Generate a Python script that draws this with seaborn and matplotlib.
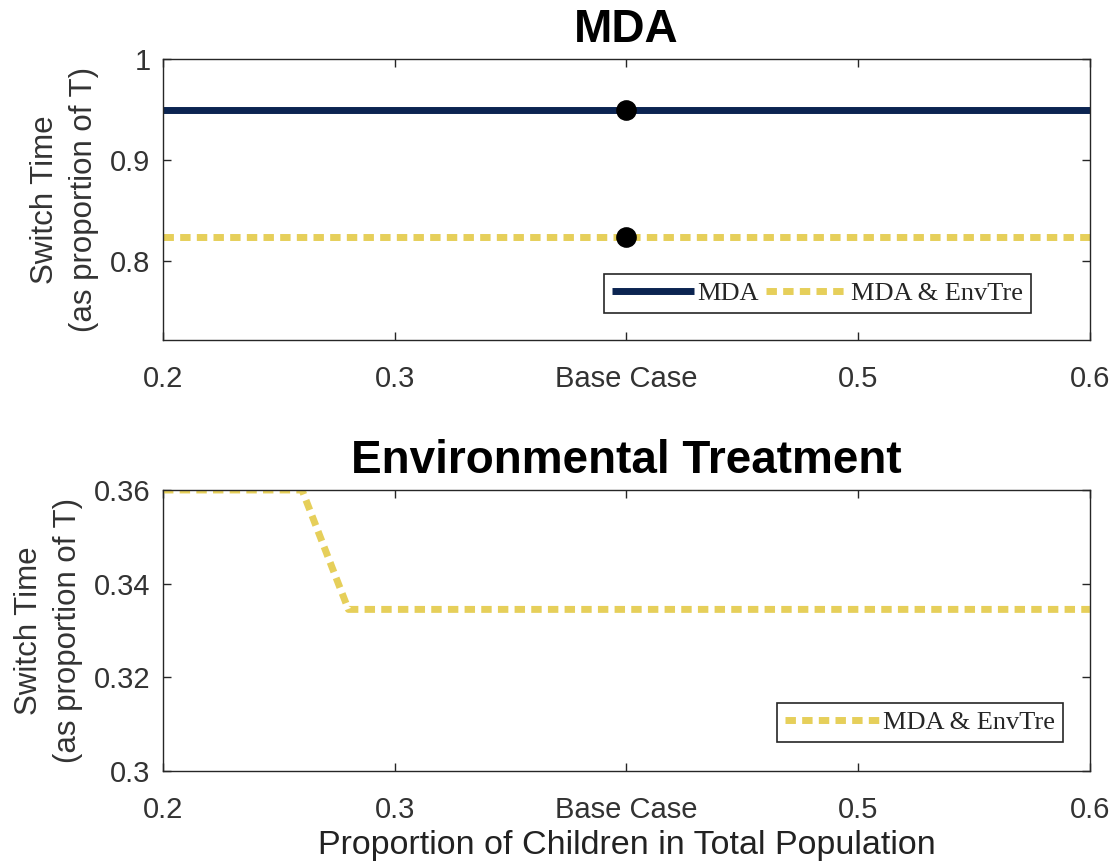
import matplotlib
matplotlib.use("Agg")
import matplotlib.pyplot as plt
import seaborn as sns
import pandas as pd

# Proportion of children in the total population (sweep grid)
prop_children = [0.20, 0.22, 0.24, 0.26, 0.28, 0.30, 0.32, 0.34, 0.36, 0.38, 0.40,
                 0.42, 0.44, 0.46, 0.48, 0.50, 0.52, 0.54, 0.56, 0.58, 0.60]

# Switch times (as proportion of T) for the MDA strategy
mda_only = [0.950] * len(prop_children)
mda_envtre_top = [0.824] * len(prop_children)

# Switch times for the environmental-treatment strategy
envtre_switch = [0.360, 0.360, 0.360, 0.360, 0.3345, 0.3345, 0.3345, 0.3345, 0.3345,
                 0.3345, 0.3345, 0.3345, 0.3345, 0.3345, 0.3345, 0.3345, 0.3345,
                 0.3345, 0.3345, 0.3345, 0.3345]

# Base-case markers
base_x = [0.40, 0.40]
base_y = [0.950, 0.824]

x_ticks = [0.2, 0.3, 0.4, 0.5, 0.6]
x_ticklabels = ["0.2", "0.3", "Base Case", "0.5", "0.6"]
top_yticks = [0.8, 0.9, 1.0]
top_yticklabels = ["0.8", "0.9", "1"]
bot_yticks = [0.30, 0.32, 0.34, 0.36]
bot_yticklabels = ["0.3", "0.32", "0.34", "0.36"]

NAVY = "#0b2451"
GOLD = "#e6cf5a"
AXC = "#262626"

sns.set_style("ticks")
plt.rcParams["font.family"] = ["Liberation Sans", "DejaVu Sans"]
plt.rcParams["axes.edgecolor"] = AXC
plt.rcParams["xtick.color"] = AXC
plt.rcParams["ytick.color"] = AXC

fig = plt.figure(figsize=(11.18, 8.68), dpi=100)
ax1 = fig.add_axes([0.1458, 0.6083, 0.829, 0.3237])
ax2 = fig.add_axes([0.1458, 0.1118, 0.829, 0.3237])

top_df = pd.DataFrame({"x": prop_children, "MDA": mda_only, "MDA & EnvTre": mda_envtre_top})
bot_df = pd.DataFrame({"x": prop_children, "MDA & EnvTre": envtre_switch})
base_df = pd.DataFrame({"x": base_x, "y": base_y})

sns.lineplot(data=top_df, x="x", y="MDA", ax=ax1, color=NAVY, lw=5, label="MDA")
sns.lineplot(data=top_df, x="x", y="MDA & EnvTre", ax=ax1, color=GOLD, lw=5,
             label="MDA & EnvTre")
ax1.lines[-1].set_dashes((1.5, 0.9))
sns.scatterplot(data=base_df, x="x", y="y", ax=ax1, color="black", s=190,
                edgecolor="black", zorder=5)

sns.lineplot(data=bot_df, x="x", y="MDA & EnvTre", ax=ax2, color=GOLD, lw=5,
             label="MDA & EnvTre")
ax2.lines[-1].set_dashes((1.5, 0.9))

for line in ax1.get_lines() + ax2.get_lines():
    line.set_solid_capstyle("butt")
    line.set_dash_capstyle("butt")

legend_font = {"family": "Liberation Serif", "size": 19}

def style_axes(ax, yticks, yticklabels, ylim, title, legend_anchor, ncol, hlen):
    ax.set_xlim(0.2, 0.6)
    ax.set_ylim(*ylim)
    ax.set_xticks(x_ticks)
    ax.set_xticklabels(x_ticklabels)
    ax.set_yticks(yticks)
    ax.set_yticklabels(yticklabels)
    ax.tick_params(axis="both", direction="in", length=6, width=1, labelsize=21,
                   top=True, right=True, labelcolor="#333333")
    ax.tick_params(axis="x", pad=18)
    ax.tick_params(axis="y", pad=9)
    for sp in ax.spines.values():
        sp.set_visible(True)
        sp.set_linewidth(1)
        sp.set_color(AXC)
    ax.set_title(title, fontsize=33, fontweight="bold", pad=12, color="black")
    ax.set_ylabel("Switch Time\n(as proportion of T)", fontsize=22.5, color="#333333",
                  linespacing=1.4, labelpad=8)
    ax.set_xlabel("")
    leg = ax.legend(loc="lower right", bbox_to_anchor=legend_anchor, ncol=ncol,
                    prop=legend_font, frameon=True, fancybox=False, framealpha=1,
                    edgecolor=AXC, borderaxespad=0, handlelength=hlen,
                    handletextpad=0.1, columnspacing=0.3, borderpad=0.3)
    leg.get_frame().set_linewidth(1.2)

style_axes(ax1, top_yticks, top_yticklabels, (0.722, 1.0), "MDA", (0.936, 0.096), 2, 3.1)
style_axes(ax2, bot_yticks, bot_yticklabels, (0.30, 0.36), "Environmental Treatment",
           (0.971, 0.103), 1, 3.6)
ax2.set_xlabel("Proportion of Children in Total Population", fontsize=24.5,
               color="#222222", labelpad=4)

fig.savefig("out.png", dpi=100)
